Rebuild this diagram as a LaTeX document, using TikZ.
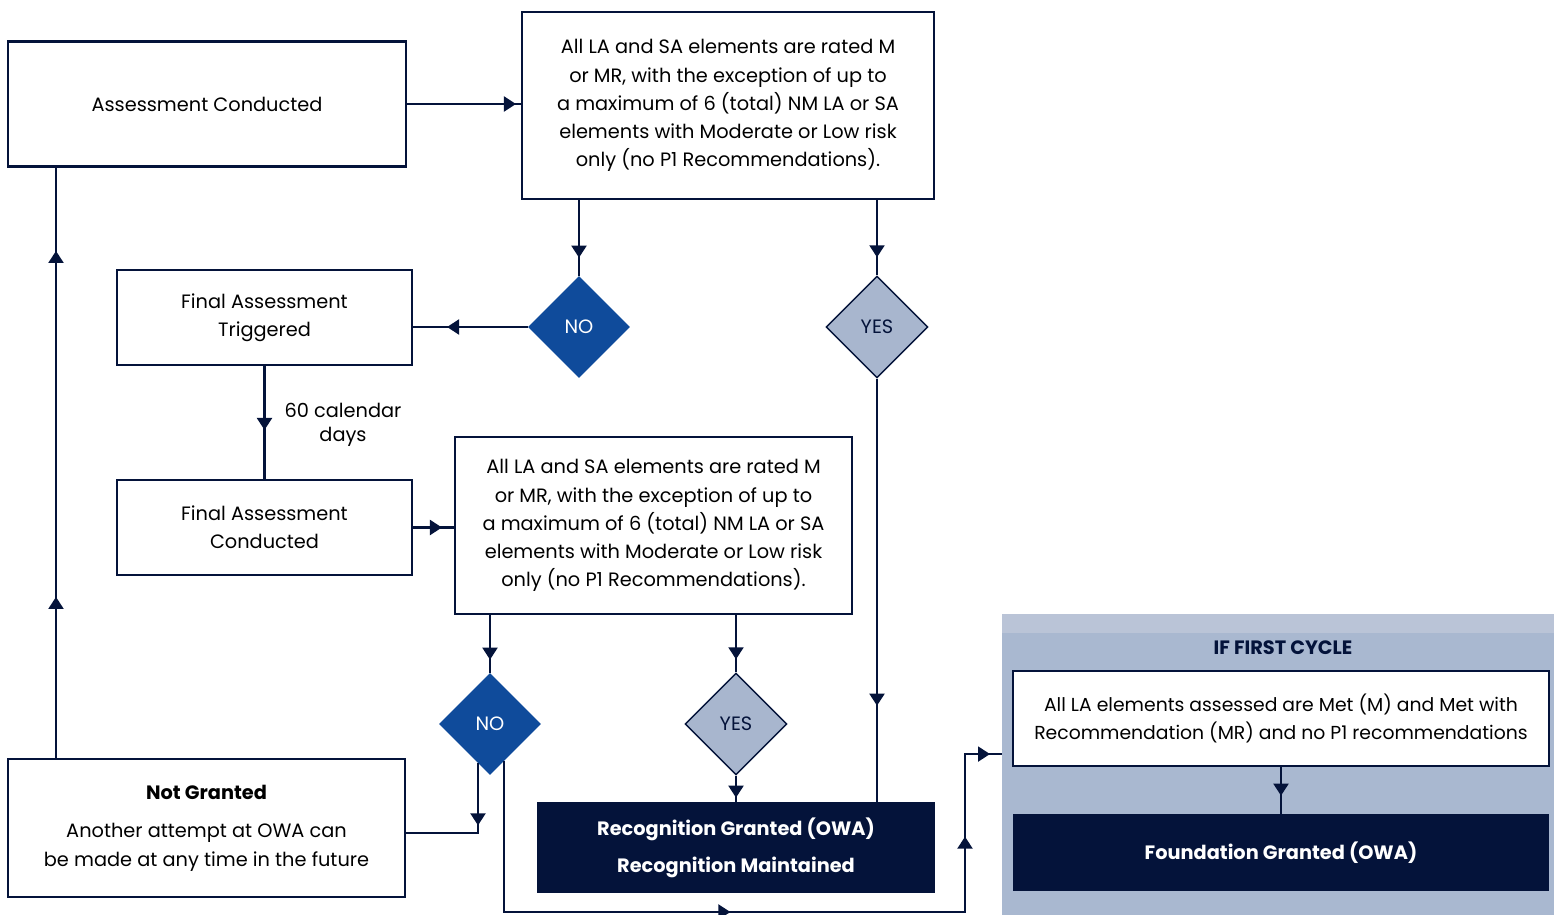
\documentclass[tikz,border=0pt]{standalone}
\usepackage{fontspec}
\setmainfont{Poppins}
\usetikzlibrary{shapes.geometric,arrows.meta,decorations.markings,calc}

\definecolor{navy}{HTML}{04133A}
\definecolor{noblue}{HTML}{0F4B9B}
\definecolor{yesgrey}{HTML}{A8B6CE}
\definecolor{panelblue}{HTML}{A9B8D0}
\definecolor{stripblue}{HTML}{BAC4D7}

\tikzset{
  box/.style={draw=navy, line width=1.2pt, fill=white, align=center, inner sep=2pt,
    font=\fontsize{11}{16}\selectfont},
  darkbox/.style={fill=navy, text=white, align=center, inner sep=2pt,
    font=\fontsize{11}{16}\selectfont\bfseries},
  choice/.style={diamond, minimum width=2.04cm, minimum height=2.04cm, inner sep=0pt,
    font=\fontsize{11}{12}\selectfont},
  link/.style={draw=navy, color=navy, line width=1.2pt},
  tipat/.style={postaction={decorate, decoration={markings,
    mark=at position #1 with {\arrow{Triangle[length=0.24cm,width=0.3cm]}}}}},
}

\begin{document}
\begin{tikzpicture}
\useasboundingbox (0,0) rectangle (31.08,-18.3);

% first cycle panel
\node[fill=panelblue, minimum width=11.04cm, minimum height=6.02cm, anchor=north west, inner sep=0pt] (cycle) at (20.04,-12.28) {};
\fill[stripblue] (cycle.north west) rectangle ($(cycle.north east)+(0,-0.38)$);
\node[font=\fontsize{11}{14}\selectfont\bfseries, text=navy] (fctitle) at (25.66,-12.96) {IF FIRST CYCLE};

% boxes
\node[box, minimum width=7.96cm, minimum height=2.5cm] (ac) at (4.14,-2.08) {Assessment Conducted};
\node[box, minimum width=8.24cm, minimum height=3.74cm] (c1) at (14.56,-2.11)
  {All LA and SA elements are rated M\\or MR, with the exception of up to\\a maximum of 6 (total) NM LA or SA\\elements with Moderate or Low risk\\only (no P1 Recommendations).};
\node[choice, fill=noblue, text=white] (no1) at (11.58,-6.54) {NO};
\node[choice, draw=navy, line width=0.8pt, fill=yesgrey, text=navy] (yes1) at (17.54,-6.54) {YES};
\node[box, minimum width=5.9cm, minimum height=1.9cm] (fat) at (5.29,-6.35) {Final Assessment\\Triggered};
\node[box, minimum width=5.9cm, minimum height=1.9cm] (fac) at (5.29,-10.55) {Final Assessment\\Conducted};
\node[align=center, font=\fontsize{11}{14}\selectfont] (wait) at (6.86,-8.5) {60 calendar\\days};
\node[box, minimum width=7.94cm, minimum height=3.54cm] (c2) at (13.07,-10.51)
  {All LA and SA elements are rated M\\or MR, with the exception of up to\\a maximum of 6 (total) NM LA or SA\\elements with Moderate or Low risk\\only (no P1 Recommendations).};
\node[choice, fill=noblue, text=white] (no2) at (9.8,-14.48) {NO};
\node[choice, draw=navy, line width=0.8pt, fill=yesgrey, text=navy] (yes2) at (14.72,-14.48) {YES};
\node[darkbox, minimum width=7.96cm, minimum height=1.82cm] (rec) at (14.72,-16.95)
  {Recognition Granted (OWA)\\[5pt]Recognition Maintained};
\node[box, minimum width=7.94cm, minimum height=2.76cm] (ng) at (4.13,-16.56)
  {\textbf{Not Granted}\\[6pt]Another attempt at OWA can\\be made at any time in the future};
\node[box, minimum width=10.72cm, minimum height=1.9cm, font=\fontsize{10.7}{16}\selectfont] (fc) at (25.62,-14.37)
  {All LA elements assessed are Met (M) and Met with\\Recommendation (MR) and no P1 recommendations};
\node[darkbox, minimum width=10.72cm, minimum height=1.54cm] (fg) at (25.62,-17.05) {Foundation Granted (OWA)};

% helper points
\coordinate (loopx) at (1.12,0);
\coordinate (no2l) at ($(no2.south)+(-0.24,0.24)$);
\coordinate (no2r) at ($(no2.south)+(0.28,0.28)$);
\coordinate (turn1) at (19.3,-18.24);
\coordinate (fcin) at ($(cycle.west |- fc.south)+(0,0.26)$);

% connectors
\draw[link, tipat=-0.1cm] (ac.east) -- (c1.west |- ac.east);
\draw[link, tipat=-0.36cm] (no1 |- c1.south) -- (no1.north);
\draw[link, tipat=-0.36cm] (yes1 |- c1.south) -- (yes1.north);
\draw[link, tipat=-0.68cm] (no1.west) -- (fat.east |- no1.west);
\draw[link, tipat=-0.98cm] (fat.south) -- (fac.north);
\draw[link, tipat=-0.24cm] (fac.east) -- (c2.west |- fac.east);
\draw[link, tipat=-0.26cm] (no2 |- c2.south) -- (no2.north);
\draw[link, tipat=-0.26cm] (yes2 |- c2.south) -- (yes2.north);
\draw[link, tipat=-0.08cm] (yes2.south) -- (rec.north);
\draw[link, tipat=-1.92cm] (yes1.south) -- (yes1 |- rec.north);
\draw[link, tipat=1.24cm] (no2l) |- ($(ng.east)+(0,-0.1)$);
\draw[link, tipat=7.54cm, tipat=13.74cm, tipat=-0.24cm] (no2r) |- (turn1) |- (fcin);
\draw[link, tipat=3.22cm, tipat=10.14cm] (ng.north -| loopx) -- (ac.south -| loopx);
\draw[link, tipat=-0.36cm] (fc.south) -- (fg.north);
\end{tikzpicture}
\end{document}
